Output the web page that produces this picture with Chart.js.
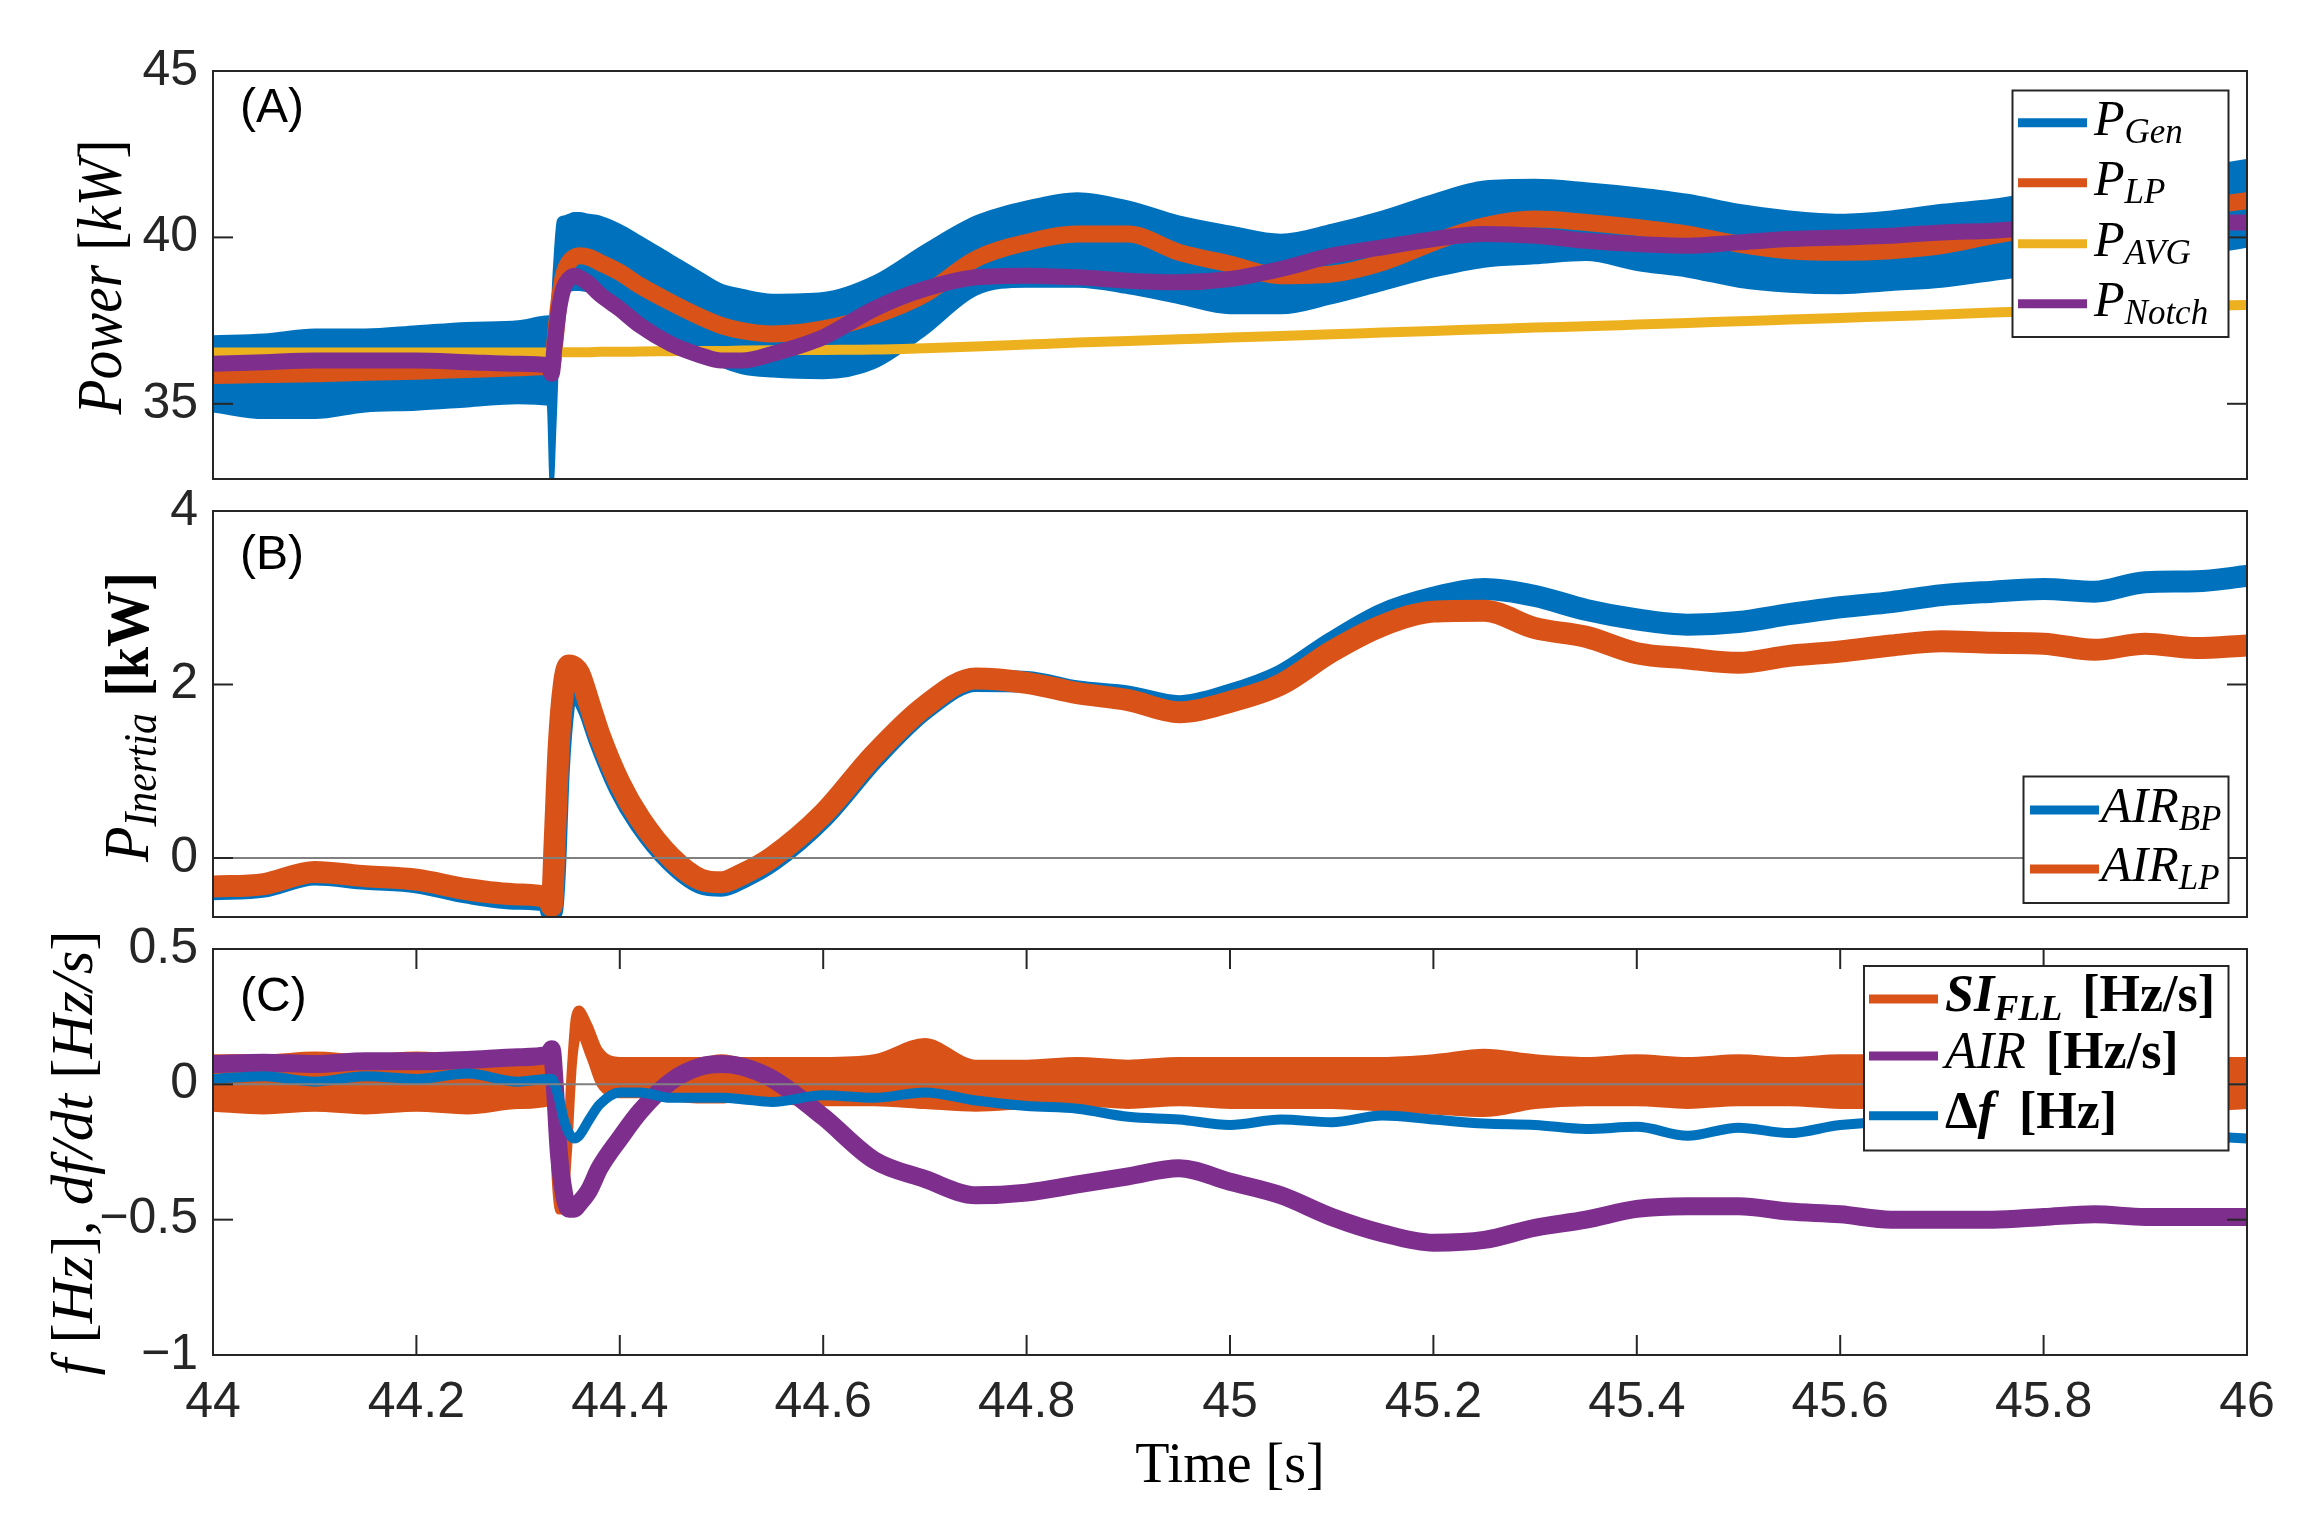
<!DOCTYPE html>
<html>
<head>
<meta charset="utf-8">
<title>Inertia response</title>
<script src="https://cdn.jsdelivr.net/npm/chart.js@4.4.1/dist/chart.umd.min.js"></script>
<style>
  html, body { margin: 0; padding: 0; background: #fff; }
  #wrap { position: relative; width: 2310px; height: 1525px; }
  #wrap canvas { position: absolute; left: 0; top: 0; width: 2310px; height: 1525px; }
</style>
</head>
<body>
<div id="wrap">
  <canvas id="chartA" width="2310" height="1525"></canvas>
  <canvas id="chartB" width="2310" height="1525"></canvas>
  <canvas id="chartC" width="2310" height="1525"></canvas>
</div>
<script>
// sample times [s], shared by every series (denser around the step at 44.33 s)
const time = [
    44.00, 44.05, 44.10, 44.15, 44.20, 44.25, 44.30, 44.33, 44.333, 44.336,
    44.34, 44.345, 44.35, 44.355, 44.36, 44.37, 44.38, 44.40, 44.42, 44.45,
    44.48, 44.50, 44.52, 44.55, 44.60, 44.65, 44.70, 44.75, 44.80, 44.85,
    44.90, 44.95, 45.00, 45.05, 45.10, 45.15, 45.20, 45.25, 45.30, 45.35,
    45.40, 45.45, 45.50, 45.55, 45.60, 45.65, 45.70, 45.75, 45.80, 45.85,
    45.90, 45.95, 46.00
];

// (A) power [kW] - P_Gen is a wide ripple band, kept as upper / lower envelope
const pGenHigh = [
    37.0, 37.05, 37.2, 37.2, 37.3, 37.4, 37.45, 37.6, 37.4, 39.0,
    40.5, 40.6, 40.65, 40.7, 40.7, 40.65, 40.6, 40.35, 40.0, 39.45,
    38.9, 38.55, 38.4, 38.25, 38.3, 38.8, 39.75, 40.6, 41.05, 41.3,
    41.05, 40.6, 40.3, 40.05, 40.35, 40.75, 41.25, 41.65, 41.7, 41.6,
    41.45, 41.25, 40.95, 40.75, 40.65, 40.75, 40.95, 41.1, 41.35, 41.6,
    41.8, 42.05, 42.3
];
const pGenLow = [
    34.8, 34.6, 34.6, 34.8, 34.85, 34.95, 35.05, 35.0, 32.6, 34.5,
    37.5, 38.2, 38.4, 38.45, 38.45, 38.4, 38.3, 37.8, 37.4, 36.95,
    36.5, 36.15, 35.95, 35.85, 35.8, 36.1, 37.1, 38.3, 38.55, 38.55,
    38.35, 38.05, 37.75, 37.75, 38.05, 38.45, 38.85, 39.15, 39.25, 39.35,
    39.05, 38.85, 38.55, 38.4, 38.35, 38.45, 38.55, 38.75, 38.95, 39.1,
    39.3, 39.5, 39.75
];
const pLP = [
    35.85, 35.88, 35.9, 35.95, 35.98, 36.03, 36.08, 36.12, 36.1, 36.8,
    38.0, 38.9, 39.25, 39.4, 39.45, 39.4, 39.25, 38.95, 38.55, 38.05,
    37.6, 37.35, 37.2, 37.1, 37.25, 37.65, 38.3, 39.35, 39.85, 40.1,
    40.1, 39.55, 39.2, 38.85, 38.9, 39.25, 39.85, 40.35, 40.55, 40.45,
    40.3, 40.1, 39.8, 39.6, 39.55, 39.6, 39.75, 40.05, 40.3, 40.5,
    40.7, 40.9, 41.1
];
const pAVG = [
    36.54, 36.54, 36.54, 36.54, 36.54, 36.54, 36.54, 36.54, 36.54, 36.54,
    36.55, 36.55, 36.55, 36.55, 36.55, 36.55, 36.56, 36.56, 36.57, 36.58,
    36.59, 36.59, 36.6, 36.61, 36.62, 36.63, 36.67, 36.72, 36.78, 36.84,
    36.89, 36.94, 36.99, 37.04, 37.09, 37.14, 37.19, 37.24, 37.29, 37.33,
    37.38, 37.43, 37.48, 37.53, 37.58, 37.63, 37.68, 37.74, 37.79, 37.84,
    37.88, 37.93, 37.97
];
const pNotch = [
    36.2, 36.25, 36.3, 36.3, 36.3, 36.25, 36.2, 36.15, 35.9, 36.8,
    37.8, 38.5, 38.75, 38.85, 38.8, 38.6, 38.3, 37.85, 37.35, 36.8,
    36.45, 36.3, 36.3, 36.5, 37.0, 37.85, 38.45, 38.8, 38.85, 38.8,
    38.7, 38.65, 38.75, 39.05, 39.45, 39.7, 39.95, 40.1, 40.05, 39.9,
    39.8, 39.75, 39.85, 39.95, 40.0, 40.05, 40.15, 40.2, 40.3, 40.35,
    40.4, 40.45, 40.45
];

// (B) inertia power [kW]
const airBP = [
    -0.36, -0.33, -0.19, -0.24, -0.28, -0.4, -0.47, -0.5, -0.62, -0.2,
    1.0, 1.75, 1.98, 2.0, 1.93, 1.7, 1.36, 0.8, 0.4, -0.03,
    -0.29, -0.32, -0.23, -0.03, 0.47, 1.15, 1.72, 2.04, 2.03, 1.92,
    1.86, 1.75, 1.88, 2.1, 2.48, 2.81, 3.0, 3.1, 3.02, 2.86,
    2.75, 2.69, 2.72, 2.81, 2.89, 2.95, 3.03, 3.07, 3.1, 3.07,
    3.18, 3.19, 3.25
];
const airLP = [
    -0.33, -0.3, -0.16, -0.21, -0.25, -0.36, -0.42, -0.46, -0.55, 0.2,
    1.3, 2.0, 2.22, 2.2, 2.13, 1.78, 1.42, 0.86, 0.45, 0.01,
    -0.25, -0.28, -0.19, 0.01, 0.51, 1.19, 1.75, 2.07, 2.02, 1.9,
    1.82, 1.68, 1.8, 2.0, 2.38, 2.68, 2.84, 2.85, 2.65, 2.55,
    2.36, 2.3, 2.25, 2.33, 2.38, 2.45, 2.5, 2.48, 2.47, 2.4,
    2.47, 2.42, 2.45
];

// (C) frequency [Hz] and RoCoF [Hz/s] - SI_FLL kept as upper / lower envelope
const siFllHigh = [
    0.10, 0.10, 0.11, 0.10, 0.11, 0.10, 0.10, 0.11, 0.08, -0.10,
    -0.38, -0.38, 0.0, 0.25, 0.28, 0.22, 0.13, 0.09, 0.09, 0.09,
    0.09, 0.10, 0.09, 0.09, 0.09, 0.10, 0.16, 0.08, 0.08, 0.09,
    0.08, 0.09, 0.09, 0.09, 0.09, 0.09, 0.10, 0.12, 0.10, 0.09,
    0.10, 0.09, 0.10, 0.09, 0.10, 0.10, 0.10, 0.10, 0.10, 0.10,
    0.10, 0.09, 0.09
];
const siFllLow = [
    -0.09, -0.10, -0.09, -0.10, -0.09, -0.10, -0.08, -0.07, -0.05, -0.35,
    -0.47, -0.47, -0.25, 0.08, 0.18, 0.10, 0.0, -0.04, -0.04, -0.05,
    -0.06, -0.06, -0.05, -0.06, -0.07, -0.07, -0.08, -0.09, -0.08, -0.07,
    -0.08, -0.07, -0.08, -0.08, -0.08, -0.09, -0.10, -0.11, -0.08, -0.07,
    -0.07, -0.08, -0.07, -0.07, -0.08, -0.08, -0.08, -0.08, -0.08, -0.08,
    -0.08, -0.09, -0.08
];
const airRate = [
    0.075, 0.08, 0.075, 0.085, 0.085, 0.09, 0.1, 0.11, 0.13, 0.0,
    -0.25, -0.4, -0.46, -0.46, -0.44, -0.39, -0.31, -0.2, -0.1, 0.01,
    0.066, 0.075, 0.066, 0.02, -0.12, -0.28, -0.35, -0.41, -0.4, -0.37,
    -0.34, -0.31, -0.36, -0.41, -0.49, -0.55, -0.585, -0.575, -0.53, -0.5,
    -0.46, -0.45, -0.45, -0.47, -0.48, -0.5, -0.5, -0.5, -0.49, -0.48,
    -0.49, -0.49, -0.49
];
const deltaF = [
    0.02, 0.03, 0.01, 0.03, 0.02, 0.04, 0.01, 0.02, 0.02, 0.0,
    -0.05, -0.13, -0.18, -0.2, -0.19, -0.13, -0.075, -0.03, -0.03, -0.05,
    -0.05, -0.05, -0.055, -0.065, -0.04, -0.05, -0.03, -0.06, -0.08, -0.09,
    -0.12, -0.13, -0.15, -0.13, -0.14, -0.115, -0.13, -0.145, -0.15, -0.165,
    -0.157, -0.19, -0.16, -0.18, -0.15, -0.14, -0.15, -0.16, -0.17, -0.18,
    -0.18, -0.19, -0.2
];

// axis ticks and labels
const xTicks = [44, 44.2, 44.4, 44.6, 44.8, 45, 45.2, 45.4, 45.6, 45.8, 46];
const xTickLabels = ['44', '44.2', '44.4', '44.6', '44.8', '45', '45.2', '45.4', '45.6', '45.8', '46'];
const yTicksA = [35, 40, 45];
const yLabelsA = ['35', '40', '45'];
const yTicksB = [0, 2, 4];
const yLabelsB = ['0', '2', '4'];
const yTicksC = [-1, -0.5, 0, 0.5];
const yLabelsC = ['\u22121', '\u22120.5', '0', '0.5'];

const COLORS = { blue: '#0072BD', orange: '#D95319', yellow: '#EDB120', purple: '#7E2F8E' };
const INK = '#262626';
const SANS = '"Liberation Sans", Arial, sans-serif';
const SERIF = '"Liberation Serif", "Times New Roman", serif';

const it = s => `italic ${s}px ${SERIF}`;
const rm = s => `normal ${s}px ${SERIF}`;
const bf = s => `bold ${s}px ${SERIF}`;
const bi = s => `italic bold ${s}px ${SERIF}`;

function pts(values) {
    return time.map((t, i) => ({ x: t, y: values[i] }));
}

function series(label, values, color, width, order, extra) {
    return Object.assign({
        label: label,
        data: pts(values),
        borderColor: color,
        backgroundColor: color,
        borderWidth: width,
        pointRadius: 0,
        fill: false,
        order: order,
        cubicInterpolationMode: 'monotone',
        borderJoinStyle: 'round',
        borderCapStyle: 'round'
    }, extra || {});
}

// --- small helpers for the LaTeX-like labels (sub scripts etc.)
function richWidth(ctx, parts) {
    let w = 0;
    parts.forEach(p => {
        ctx.font = p.font;
        w += (p.pre || 0) + ctx.measureText(p.text).width;
    });
    return w;
}

function drawRich(ctx, parts, x, y) {
    parts.forEach(p => {
        ctx.font = p.font;
        x += p.pre || 0;
        ctx.fillText(p.text, x, y + (p.dy || 0));
        x += ctx.measureText(p.text).width;
    });
}

function stroke(ctx, x1, y1, x2, y2, color, width) {
    ctx.beginPath();
    ctx.strokeStyle = color;
    ctx.lineWidth = width;
    ctx.moveTo(x1, y1);
    ctx.lineTo(x2, y2);
    ctx.stroke();
}

// per panel decoration: box, inward ticks, zero line, tag, titles, legend
const decor = {
    chartA: {
        yTicks: yTicksA,
        tag: { text: '(A)', x: 240, y: 121.5 },
        yTitle: { x: 121, y: 277, len: 275, parts: [
            { text: 'Power ', font: it(64) }, { text: '[', font: rm(64) },
            { text: 'kW', font: it(64) }, { text: ']', font: rm(64) }
        ] },
        legend: {
            box: [2012.5, 90.5, 216, 246.5], lineX: [2018, 2087], textX: 2094,
            rows: [122.7, 182.7, 243.7, 303.7],
            items: [
                { color: COLORS.blue, parts: [{ text: 'P', font: it(50) }, { text: 'Gen', font: it(35), dy: 8 }] },
                { color: COLORS.orange, parts: [{ text: 'P', font: it(50) }, { text: 'LP', font: it(35), dy: 8 }] },
                { color: COLORS.yellow, parts: [{ text: 'P', font: it(50) }, { text: 'AVG', font: it(35), dy: 8 }] },
                { color: COLORS.purple, parts: [{ text: 'P', font: it(50) }, { text: 'Notch', font: it(35), dy: 8 }] }
            ]
        }
    },
    chartB: {
        yTicks: yTicksB,
        zeroLine: true,
        tag: { text: '(B)', x: 240, y: 569 },
        yTitle: { x: 148, y: 717, len: 290, parts: [
            { text: 'P', font: it(64) }, { text: 'Inertia', font: it(46), dy: 8 },
            { text: '[kW]', font: bf(62), pre: 18 }
        ] },
        legend: {
            box: [2023.5, 776.5, 205, 126.5], lineX: [2030, 2099], textX: 2101,
            rows: [810, 869],
            items: [
                { color: COLORS.blue, parts: [{ text: 'AIR', font: it(50) }, { text: 'BP', font: it(35), dy: 8 }] },
                { color: COLORS.orange, parts: [{ text: 'AIR', font: it(50) }, { text: 'LP', font: it(35), dy: 8 }] }
            ]
        }
    },
    chartC: {
        yTicks: yTicksC,
        xTicks: xTicks,
        zeroLine: true,
        tag: { text: '(C)', x: 240, y: 1011 },
        yTitle: { x: 92, y: 1153, len: 445, parts: [
            { text: 'f ', font: it(60) }, { text: '[', font: rm(60) }, { text: 'Hz', font: it(60) },
            { text: ']', font: rm(60) }, { text: ', df/dt ', font: it(60) }, { text: '[', font: rm(60) },
            { text: 'Hz/s', font: it(60) }, { text: ']', font: rm(60) }
        ] },
        xTitle: { x: 1230, y: 1482, parts: [{ text: 'Time [s]', font: rm(56) }] },
        legend: {
            box: [1864, 966, 364.5, 184.5], lineX: [1869, 1938], textX: 1945,
            rows: [999, 1056, 1115.7],
            items: [
                { color: COLORS.orange, parts: [{ text: 'SI', font: bi(52) }, { text: 'FLL', font: bi(36), dy: 9 },
                    { text: '[Hz/s]', font: bf(52), pre: 20 }] },
                { color: COLORS.purple, parts: [{ text: 'AIR', font: it(52) }, { text: '[Hz/s]', font: bf(52), pre: 20 }] },
                { color: COLORS.blue, parts: [{ text: '\u0394', font: bf(52) }, { text: 'f', font: bi(52) },
                    { text: '[Hz]', font: bf(52), pre: 24 }] }
            ]
        }
    }
};

const decorPlugin = {
    id: 'decor',
    afterDraw(chart) {
        const d = decor[chart.canvas.id];
        const ctx = chart.ctx;
        const a = chart.chartArea;
        const xs = chart.scales.x;
        const ys = chart.scales.y;
        ctx.save();
        ctx.textAlign = 'left';
        ctx.textBaseline = 'alphabetic';

        if (d.zeroLine) {
            const py = ys.getPixelForValue(0);
            stroke(ctx, a.left, py, a.right, py, '#808080', 2);
        }
        d.yTicks.forEach(v => {
            const py = ys.getPixelForValue(v);
            stroke(ctx, a.left, py, a.left + 20, py, INK, 2);
            stroke(ctx, a.right, py, a.right - 20, py, INK, 2);
        });
        (d.xTicks || []).forEach(v => {
            const px = xs.getPixelForValue(v);
            stroke(ctx, px, a.bottom, px, a.bottom - 20, INK, 2);
            stroke(ctx, px, a.top, px, a.top + 20, INK, 2);
        });
        ctx.strokeStyle = INK;
        ctx.lineWidth = 2;
        ctx.strokeRect(a.left, a.top, a.right - a.left, a.bottom - a.top);

        // panel tag
        ctx.fillStyle = '#000';
        ctx.font = `48px ${SANS}`;
        ctx.fillText(d.tag.text, d.tag.x, d.tag.y);

        // rotated y title, squeezed to the measured length
        const t = d.yTitle;
        const w = richWidth(ctx, t.parts);
        ctx.save();
        ctx.translate(t.x, t.y);
        ctx.rotate(-Math.PI / 2);
        ctx.scale(t.len / w, 1);
        drawRich(ctx, t.parts, -w / 2, 0);
        ctx.restore();

        if (d.xTitle) {
            const xw = richWidth(ctx, d.xTitle.parts);
            drawRich(ctx, d.xTitle.parts, d.xTitle.x - xw / 2, d.xTitle.y);
        }

        // legend box
        const L = d.legend;
        ctx.fillStyle = '#fff';
        ctx.fillRect(L.box[0], L.box[1], L.box[2], L.box[3]);
        ctx.strokeStyle = INK;
        ctx.lineWidth = 2;
        ctx.strokeRect(L.box[0], L.box[1], L.box[2], L.box[3]);
        L.items.forEach((item, i) => {
            const y = L.rows[i];
            stroke(ctx, L.lineX[0], y, L.lineX[1], y, item.color, 9);
            ctx.fillStyle = '#000';
            drawRich(ctx, item.parts, L.textX, y + 12);
        });
        ctx.restore();
    }
};

function makeChart(id, p) {
    const tickFont = { family: SANS, size: 50 };
    const xAxis = {
        type: 'linear', min: 44, max: 46, display: !!p.showX,
        grid: { display: false, drawTicks: false },
        border: { display: false }
    };
    if (p.showX) {
        Object.assign(xAxis, {
            afterFit: s => { s.height = 100; },
            afterBuildTicks: s => { s.ticks = xTicks.map(v => ({ value: v })); },
            ticks: {
                callback: (v, i) => xTickLabels[i],
                padding: 18, autoSkip: false, maxRotation: 0,
                font: tickFont, color: INK
            }
        });
    }
    return new Chart(document.getElementById(id), {
        type: 'line',
        data: { datasets: p.datasets },
        options: {
            responsive: false,
            animation: false,
            devicePixelRatio: 1,
            layout: { padding: p.padding },
            scales: {
                x: xAxis,
                y: {
                    type: 'linear', min: p.yMin, max: p.yMax,
                    afterFit: s => { s.width = 213; },
                    afterBuildTicks: s => { s.ticks = p.yTicks.map(v => ({ value: v })); },
                    ticks: {
                        callback: (v, i) => p.yLabels[i],
                        padding: 15, font: tickFont, color: INK
                    },
                    grid: { display: false, drawTicks: false },
                    border: { display: false }
                }
            },
            plugins: {
                legend: { display: false },
                tooltip: { enabled: false }
            }
        },
        plugins: [decorPlugin]
    });
}

// lower "order" is drawn on top, so the first legend entry sits at the bottom
makeChart('chartA', {
    padding: { top: 71, bottom: 1046, left: 0, right: 63 },
    yMin: 32.74, yMax: 45, yTicks: yTicksA, yLabels: yLabelsA,
    datasets: [
        series('P_Gen', pGenHigh, COLORS.blue, 4, 6, { fill: '+1' }),
        series('P_Gen low', pGenLow, COLORS.blue, 4, 5),
        series('P_LP', pLP, COLORS.orange, 17, 4),
        series('P_AVG', pAVG, COLORS.yellow, 10, 3),
        series('P_Notch', pNotch, COLORS.purple, 16, 2)
    ]
});

makeChart('chartB', {
    padding: { top: 511, bottom: 608, left: 0, right: 63 },
    yMin: -0.68, yMax: 4, yTicks: yTicksB, yLabels: yLabelsB,
    datasets: [
        series('AIR_BP', airBP, COLORS.blue, 22, 3),
        series('AIR_LP', airLP, COLORS.orange, 22, 2)
    ]
});

makeChart('chartC', {
    padding: { top: 949, bottom: 70, left: 0, right: 63 },
    showX: true,
    yMin: -1, yMax: 0.5, yTicks: yTicksC, yLabels: yLabelsC,
    datasets: [
        series('SI_FLL', siFllHigh, COLORS.orange, 6, 5, { fill: '+1' }),
        series('SI_FLL low', siFllLow, COLORS.orange, 6, 4),
        series('AIR', airRate, COLORS.purple, 18, 3),
        series('Delta f', deltaF, COLORS.blue, 10, 2)
    ]
});
</script>
</body>
</html>
